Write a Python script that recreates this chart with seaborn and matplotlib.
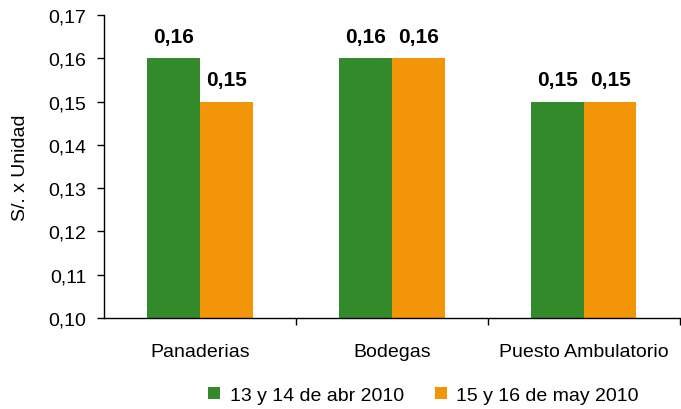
import pandas as pd
import numpy as np
import matplotlib.pyplot as plt
import seaborn as sns

categories = ['Panaderias', 'Bodegas', 'Puesto Ambulatorio']
series_names = ['13 y 14 de abr 2010', '15 y 16 de may 2010']
abr_values = [0.16, 0.16, 0.15]
may_values = [0.15, 0.16, 0.15]
y_ticks = [0.10, 0.11, 0.12, 0.13, 0.14, 0.15, 0.16, 0.17]

df = pd.DataFrame({
    'cat': categories * 2,
    'serie': [series_names[0]] * 3 + [series_names[1]] * 3,
    'valor': abr_values + may_values,
})

sns.set_style('white')
plt.rcParams['font.family'] = ['Liberation Sans', 'DejaVu Sans']
plt.rcParams['text.color'] = 'black'
plt.rcParams['axes.labelcolor'] = 'black'
plt.rcParams['xtick.color'] = 'black'
plt.rcParams['ytick.color'] = 'black'

fig = plt.figure(figsize=(6.81, 4.10), dpi=100)
ax = fig.add_axes([0.153, 0.222, 0.845, 0.739])

sns.barplot(data=df, x='cat', y='valor', hue='serie', palette=['#338A2B', '#F39508'],
            width=0.55, ax=ax, saturation=1, linewidth=0)

for cont in ax.containers:
    ax.bar_label(cont, labels=[('%.2f' % v).replace('.', ',') for v in cont.datavalues],
                 padding=9, fontsize=15, fontweight='bold', color='black')

fs = 14
ax.set_ylim(0.10, 0.17)
ax.set_yticks(y_ticks)
ax.set_yticklabels([('%.2f' % t).replace('.', ',') for t in y_ticks], fontsize=fs)
ax.set_xlim(-0.5, 2.5)
ax.set_xticks([0, 1, 2])
ax.set_xticklabels(categories, fontsize=fs)
ax.set_xticks([0.5, 1.5, 2.5], minor=True)
ax.tick_params(axis='x', which='major', length=0, pad=18, labelcolor='black')
ax.tick_params(axis='x', which='minor', length=5, width=1, direction='out', bottom=True, color='black')
ax.tick_params(axis='y', length=5, width=1, direction='out', left=True, pad=8, labelcolor='black', color='black')
ax.set_xlabel('')
ax.set_ylabel('S/. x Unidad', fontsize=fs, labelpad=14, color='black')

for s in ['top', 'right']:
    ax.spines[s].set_visible(False)
for s in ['left', 'bottom']:
    ax.spines[s].set_color('black')
    ax.spines[s].set_linewidth(1)

leg = ax.legend(loc='center', bbox_to_anchor=(0.555, -0.255), ncol=2, frameon=False,
                fontsize=fs, handlelength=0.6, handleheight=0.6, columnspacing=1.6, handletextpad=0.5)
for t in leg.get_texts():
    t.set_color('black')

fig.savefig('out.png', dpi=100)
